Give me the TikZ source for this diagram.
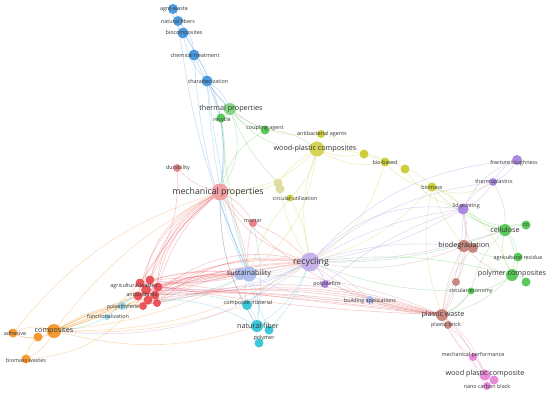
\documentclass[tikz,border=0pt]{standalone}
\usepackage{fontspec}
\setmainfont{Open Sans}
\usetikzlibrary{backgrounds}

\definecolor{cazul}{HTML}{3C8FDB}
\definecolor{cverde}{HTML}{4BC44B}
\definecolor{crojo}{HTML}{E8454B}
\definecolor{cnaranja}{HTML}{F5911C}
\definecolor{ccian}{HTML}{29C2D8}
\definecolor{ccianclaro}{HTML}{8CD4E8}
\definecolor{cceleste}{HTML}{A9B9EA}
\definecolor{cmorado}{HTML}{A37DDD}
\definecolor{camarillo}{HTML}{C9C828}
\definecolor{colivo}{HTML}{DCDC9A}
\definecolor{cmarron}{HTML}{C27D72}
\definecolor{crosa}{HTML}{E57ED7}

\begin{document}
\begin{tikzpicture}[x=1pt, y=-1pt,
  bub/.style={circle, fill=#1, fill opacity=0.9, inner sep=0pt, minimum size=9pt},
  lnk/.style={draw=#1, opacity=0.3, line width=0.55pt},
  et/.style={text=black!80, inner sep=0pt, font=\fontsize{5.4}{6}\selectfont},
  etm/.style={et, font=\fontsize{7.2}{8}\selectfont},
  etg/.style={et, font=\fontsize{8.8}{10}\selectfont}]
  \useasboundingbox (0,0) rectangle (550,394);
  % burbujas: azul
  \node[bub=cazul, minimum size=10pt] (agrowaste) at (173,9) {};
  \node[bub=cazul, minimum size=10pt] (natfibers) at (178,21) {};
  \node[bub=cazul, minimum size=11pt] (biocomp) at (183,33) {};
  \node[bub=cazul, minimum size=11pt] (chemtreat) at (194,55) {};
  \node[bub=cazul, minimum size=11pt] (charact) at (207,81) {};
  % verde
  \node[bub=cverde!75, minimum size=12pt] (thermal) at (230,109) {};
  \node[bub=cverde] (recycle) at (221,118) {};
  \node[bub=cverde] (coupling) at (265,130) {};
  \node[bub=cverde, minimum size=12pt] (cellulose) at (505,230) {};
  \node[bub=cverde] (co) at (526,225) {};
  \node[bub=cverde] (agresidue) at (518,257) {};
  \node[bub=cverde, minimum size=12pt] (polycomp) at (512,275) {};
  \node[bub=cverde] (gr1) at (526,282) {};
  \node[bub=cverde, minimum size=7pt] (circecon) at (471,291) {};
  % rojo
  \node[bub=crojo!55, minimum size=17pt] (mechprop) at (220,192) {};
  \node[bub=crojo!70, minimum size=8pt] (durability) at (177,168) {};
  \node[bub=crojo!75, minimum size=8pt] (mortar) at (253,223) {};
  \node[bub=crojo] (ag1) at (140,283) {};
  \node[bub=crojo] (ag2) at (150,280) {};
  \node[bub=crojo] (ag3) at (158,287) {};
  \node[bub=crojo, minimum size=10pt] (ag4) at (146,290) {};
  \node[bub=crojo] (ag5) at (155,295) {};
  \node[bub=crojo] (ag6) at (138,296) {};
  \node[bub=crojo] (ag7) at (148,300) {};
  \node[bub=crojo, minimum size=8pt] (ag8) at (157,303) {};
  \node[bub=crojo, minimum size=8pt] (ag9) at (143,306) {};
  % cian
  \node[bub=ccianclaro, minimum size=8pt] (polyeth) at (122,306) {};
  \node[bub=ccianclaro, minimum size=6pt] (functional) at (107,317) {};
  \node[bub=ccian, minimum size=10pt] (compmat) at (247,305) {};
  \node[bub=ccian, minimum size=12pt] (natfiber) at (257,326) {};
  \node[bub=ccian] (polymer) at (269,330) {};
  \node[bub=ccian] (polymer2) at (259,343) {};
  % celeste
  \node[bub=cceleste, minimum size=12pt] (sustain2) at (240,274) {};
  \node[bub=cceleste, minimum size=15pt] (sustain) at (249,274) {};
  \node[bub=cceleste, minimum size=8pt] (buildapp) at (370,300) {};
  % morado
  \node[bub=cmorado!65, minimum size=19pt] (recycling) at (310,262) {};
  \node[bub=cmorado, minimum size=8pt] (polyolef) at (325,284) {};
  \node[bub=cmorado, minimum size=11pt] (print3d) at (463,209) {};
  \node[bub=cmorado, minimum size=8pt] (thermoplast) at (493,182) {};
  \node[bub=cmorado, minimum size=10pt] (fracture) at (517,160) {};
  % amarillo
  \node[bub=camarillo!85, minimum size=15pt] (wpc) at (317,149) {};
  \node[bub=camarillo, minimum size=8pt] (antibact) at (321,134) {};
  \node[bub=camarillo] (yl1) at (364,154) {};
  \node[bub=camarillo] (biobased) at (385,162) {};
  \node[bub=camarillo] (yl2) at (405,169) {};
  \node[bub=camarillo] (biomass) at (432,187) {};
  \node[bub=colivo] (cu1) at (278,183) {};
  \node[bub=colivo] (cu2) at (280,189) {};
  \node[bub=camarillo, minimum size=7pt] (circutil) at (290,198) {};
  % marron
  \node[bub=cmarron, minimum size=12pt] (biodeg) at (464,246) {};
  \node[bub=cmarron, minimum size=10pt] (biodeg2) at (473,248) {};
  \node[bub=cmarron, minimum size=8pt] (br1) at (456,282) {};
  \node[bub=cmarron, minimum size=12pt] (plwaste) at (442,315) {};
  \node[bub=cmarron, minimum size=8pt] (plbrick) at (448,325) {};
  % rosa
  \node[bub=crosa, minimum size=8pt] (mechperf) at (473,357) {};
  \node[bub=crosa, minimum size=11pt] (wpc2) at (485,375) {};
  \node[bub=crosa] (pk1) at (494,380) {};
  \node[bub=crosa, minimum size=8pt] (nanocb) at (487,386) {};
  % naranja
  \node[bub=cnaranja, minimum size=14pt] (composites) at (54,331) {};
  \node[bub=cnaranja] (adhesive) at (13,333) {};
  \node[bub=cnaranja] (or1) at (38,337) {};
  \node[bub=cnaranja] (biowastes) at (26,359) {};

  % enlaces
  \begin{pgfonlayer}{background}
  \fill[white] (0,0) rectangle (550,394);
  \foreach \a/\b/\c/\d in {
    agrowaste/natfibers/cazul/15, natfibers/biocomp/cazul/15, biocomp/chemtreat/cazul/15,
    chemtreat/charact/cazul/15, charact/thermal/cazul/15, agrowaste/biocomp/cazul/-20,
    natfibers/chemtreat/cazul/20, biocomp/charact/cazul/-15, chemtreat/thermal/cazul/-10,
    charact/mechprop/cazul/15, charact/sustain/cazul/-5, chemtreat/sustain/cazul/-10,
    biocomp/mechprop/cazul/20, charact/recycle/cazul/5, charact/coupling/cazul/-15,
    natfibers/sustain/cazul/-8,
    thermal/recycle/cverde/15, thermal/coupling/cverde/-20, thermal/mechprop/cverde/25,
    recycle/mechprop/cverde/10, thermal/wpc/cverde/-25, coupling/wpc/cverde/15,
    coupling/mechprop/cverde/-20, recycle/sustain/cverde/-5, thermal/cu1/cverde/-10,
    cellulose/co/cverde/20, cellulose/agresidue/cverde/15, cellulose/polycomp/cverde/20,
    cellulose/polycomp/cverde/-20, agresidue/polycomp/cverde/15, polycomp/gr1/cverde/20,
    polycomp/circecon/cverde/15, cellulose/circecon/cverde/-15, circecon/plwaste/cverde/15,
    cellulose/print3d/cverde/15, cellulose/thermoplast/cverde/-15, cellulose/recycling/cverde/10,
    polycomp/recycling/cverde/-10, circecon/recycling/cverde/10, co/print3d/cverde/20,
    cellulose/biomass/cverde/15, agresidue/biodeg/cverde/15, polycomp/plwaste/cverde/15,
    wpc/antibact/camarillo/20, wpc/yl1/camarillo/-15, wpc/biobased/camarillo/-20,
    wpc/biobased/camarillo/10, biobased/yl2/camarillo/15, yl2/biomass/camarillo/15,
    yl1/biobased/camarillo/15, biobased/biomass/camarillo/-20, antibact/yl1/camarillo/10,
    biomass/print3d/camarillo/15, biomass/biodeg/camarillo/-10, biomass/polycomp/camarillo/20,
    biomass/thermoplast/camarillo/-25, wpc/circutil/camarillo/15, wpc/cu1/camarillo/-10,
    wpc/mechprop/camarillo/20, wpc/recycling/camarillo/-15, circutil/recycling/camarillo/10,
    cu1/mechprop/camarillo/15, cu2/recycling/camarillo/-10, biomass/recycling/camarillo/15,
    biomass/plwaste/camarillo/-15, antibact/thermal/camarillo/20, wpc/sustain/camarillo/20,
    yl2/print3d/camarillo/-20, circutil/sustain/camarillo/-10, biobased/recycling/camarillo/20,
    mechprop/durability/crojo/15, mechprop/mortar/crojo/15, mechprop/recycling/crojo/-20,
    mechprop/sustain/crojo/10, mortar/recycling/crojo/10, durability/ag1/crojo/20,
    mortar/sustain/crojo/-10, mechprop/natfiber/crojo/-15, mechprop/plwaste/crojo/-20,
    composites/adhesive/cnaranja/25, composites/adhesive/cnaranja/-20, composites/or1/cnaranja/15,
    or1/adhesive/cnaranja/15, composites/biowastes/cnaranja/15, or1/biowastes/cnaranja/-15,
    composites/mechprop/cnaranja/12, composites/recycling/cnaranja/-15,
    composites/sustain/cnaranja/-10, composites/compmat/cnaranja/-10,
    composites/natfiber/cnaranja/-15, biowastes/ag4/cnaranja/-25, adhesive/mechprop/cnaranja/16,
    compmat/natfiber/ccian/15, natfiber/polymer/ccian/20, natfiber/polymer2/ccian/-15,
    polymer/polymer2/ccian/15, compmat/sustain/ccian/15, natfiber/sustain/ccian/-15,
    natfiber/recycling/ccian/-15, polymer/recycling/ccian/-10, compmat/ag5/ccian/-10,
    natfiber/ag7/ccian/-15, polyeth/ag4/ccian/10, functional/ag6/ccian/10,
    natfiber/mechprop/ccian/15, compmat/recycling/ccian/10, polymer/charact/ccian/10,
    natfiber/mortar/ccian/-10, polyeth/sustain/ccian/-10, functional/composites/ccian/10,
    sustain/sustain2/cceleste/0, sustain/recycling/cceleste/-10, sustain/mechprop/cceleste/10,
    buildapp/recycling/cceleste/15, sustain/buildapp/cceleste/-15, sustain2/ag2/cceleste/10,
    recycling/polyolef/cmorado/15, recycling/print3d/cmorado/10, recycling/print3d/cmorado/-10,
    recycling/print3d/cmorado/25, recycling/thermoplast/cmorado/15, print3d/thermoplast/cmorado/15,
    print3d/thermoplast/cmorado/-15, thermoplast/fracture/cmorado/15,
    thermoplast/fracture/cmorado/-15, print3d/fracture/cmorado/20, recycling/biodeg/cmorado/10,
    recycling/cellulose/cmorado/-8, print3d/biodeg/cmorado/15, recycling/fracture/cmorado/20,
    polyolef/print3d/cmorado/10, recycling/buildapp/cmorado/10, recycling/composites/cmorado/20,
    recycling/ag3/cmorado/15, recycling/ag1/cmorado/20, print3d/plwaste/cmorado/10,
    biodeg/biodeg2/cmarron/0, biodeg/plwaste/cmarron/10, biodeg/plwaste/cmarron/-10,
    biodeg/br1/cmarron/15, br1/plwaste/cmarron/15, plwaste/plbrick/cmarron/15,
    plwaste/recycling/cmarron/15, plwaste/buildapp/cmarron/10, plwaste/mechperf/cmarron/10,
    plbrick/wpc2/cmarron/10, biodeg/print3d/cmarron/-10, biodeg2/print3d/cmarron/10,
    biodeg/recycling/cmarron/15, plwaste/circecon/cmarron/-10, biodeg/polycomp/cmarron/-15,
    biodeg2/plwaste/cmarron/-15, plwaste/sustain/cmarron/-10,
    mechperf/wpc2/crosa/15, wpc2/pk1/crosa/0, wpc2/nanocb/crosa/15, mechperf/nanocb/crosa/-15,
    wpc2/plwaste/crosa/-15, mechperf/plwaste/crosa/15, pk1/plbrick/crosa/15}
    \draw[lnk=\c] (\a) to[bend left=\d] (\b);
  % haz de enlaces del grupo rojo
  \foreach \g [count=\i, evaluate=\i as \bb using 6+3*\i, evaluate=\i as \br using -12+4.5*\i,
      evaluate=\i as \bp using -6+2.5*\i, evaluate=\i as \bc using -20+4*\i]
      in {ag1,ag2,ag3,ag4,ag5,ag6,ag7,ag8,ag9} {
    \draw[lnk=crojo] (\g) to[bend left=\bb] (mechprop);
    \draw[lnk=crojo] (\g) to[bend left=\br] (recycling);
    \draw[lnk=crojo] (\g) to[bend left=10] (sustain);
    \draw[lnk=cnaranja] (composites) to[bend left=\bc] (\g);
    \draw[lnk=crojo] (\g) to[bend left=\bp] (plwaste);
  }
  \end{pgfonlayer}

  % etiquetas
  \node[et] (t-agrowaste) at (174,9) {agro-waste};
  \node[et] (t-natfibers) at (178,21) {natural fibers};
  \node[et] (t-biocomp) at (184,33) {biocomposites};
  \node[et] (t-chemtreat) at (195,55) {chemical treatment};
  \node[et] (t-charact) at (208,81) {characterization};
  \node[etm] (t-thermal) at (231,109) {thermal properties};
  \node[et] (t-recycle) at (222,120) {recycle};
  \node[et] (t-coupling) at (265,128) {coupling agent};
  \node[etm] (t-wpc) at (315,149) {wood-plastic composites};
  \node[et] (t-antibact) at (322,134) {antibacterial agents};
  \node[et] (t-biobased) at (385,162) {bio-based};
  \node[et] (t-biomass) at (432,187) {biomass};
  \node[et] (t-circutil) at (295,198) {circular utilization};
  \node[et] (t-durability) at (178,168) {durability};
  \node[etg] (t-mechprop) at (218,192) {mechanical properties};
  \node[et] (t-mortar) at (253,221) {mortar};
  \node[et] (t-fracture) at (514,163) {fracture toughness};
  \node[et] (t-thermoplast) at (494,182) {thermoplastics};
  \node[et] (t-print3d) at (466,206) {3d printing};
  \node[etm] (t-cellulose) at (505,230) {cellulose};
  \node[et] (t-co) at (526,225) {co};
  \node[etm] (t-biodeg) at (464,246) {biodegradation};
  \node[et] (t-agresidue) at (518,258) {agricultural residue};
  \node[etm] (t-polycomp) at (512,274) {polymer composites};
  \node[et] (t-circecon) at (471,291) {circular economy};
  \node[etg] (t-recycling) at (311,262) {recycling};
  \node[etm] (t-sustain) at (249,274) {sustainability};
  \node[et] (t-polyolef) at (327,284) {polyolefins};
  \node[et] (t-buildapp) at (370,301) {building applications};
  \node[et] (t-agwastes) at (134,286) {agricultural wastes};
  \node[et] (t-antiox) at (142,294) {antioxidants};
  \node[et] (t-polyeth) at (123,307) {polyethylene};
  \node[et] (t-functional) at (108,316) {functionalization};
  \node[et] (t-compmat) at (248,303) {composite material};
  \node[etm] (t-natfiber) at (258,326) {natural fiber};
  \node[et] (t-polymer) at (264,338) {polymer};
  \node[etm] (t-plwaste) at (443,315) {plastic waste};
  \node[et] (t-plbrick) at (446,325) {plastic brick};
  \node[et] (t-mechperf) at (473,355) {mechanical performance};
  \node[etm] (t-wpc2) at (485,374) {wood plastic composite};
  \node[et] (t-nanocb) at (487,386) {nano carbon black};
  \node[etm] (t-composites) at (54,331) {composites};
  \node[et] (t-adhesive) at (15,333) {adhesive};
  \node[et] (t-biowastes) at (26,360) {biomass wastes};
\end{tikzpicture}
\end{document}
